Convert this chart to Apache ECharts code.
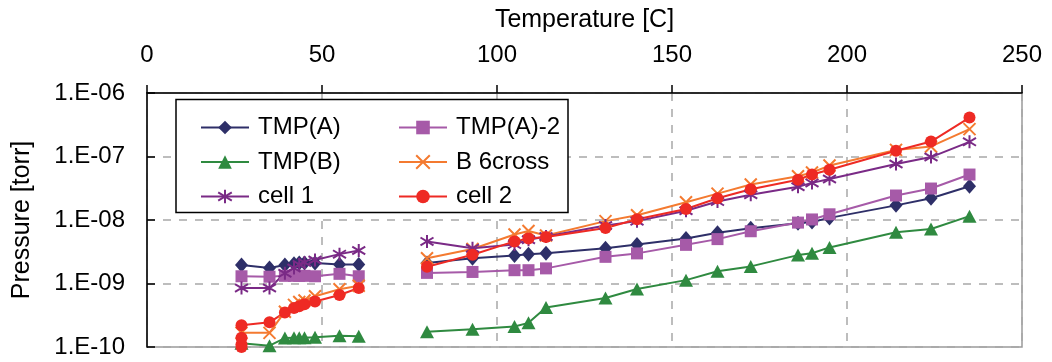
<!DOCTYPE html>
<html>
<head>
<meta charset="utf-8">
<script src="https://cdn.jsdelivr.net/npm/echarts@6/dist/echarts.min.js"></script>
<style>
html,body{margin:0;padding:0;background:#fff;}
#chart{width:1052px;height:362px;}
</style>
</head>
<body>
<div id="chart"></div>
<script>
// Temperatures [C]
const temps = [27, 35, 39.4, 42, 43.5, 45, 48, 55, 60.5,
  80, 93, 105, 109, 114,
  131, 140, 154, 163, 172.5, 186, 190, 195, 214, 224, 235];
const cell2Temps = [27, 27, 27, 27, 35, 39.4, 42, 43.5, 45, 48, 55, 60.5,
  80, 93, 105, 109, 114,
  131, 140, 154, 163, 172.5, 186, 190, 195, 214, 224, 235];

// Pressure [torr]
const tmpA = [1.95e-9, 1.75e-9, 1.95e-9, 2.05e-9, 2.1e-9, 2.1e-9, 2.1e-9, 2.0e-9, 2.0e-9,
  2.1e-9, 2.5e-9, 2.75e-9, 2.9e-9, 3.0e-9,
  3.6e-9, 4.1e-9, 5.1e-9, 6.3e-9, 7.4e-9, 8.9e-9, 9.3e-9, 1.08e-8, 1.7e-8, 2.2e-8, 3.4e-8];
const tmpA2 = [1.3e-9, 1.28e-9, 1.32e-9, 1.32e-9, 1.32e-9, 1.32e-9, 1.3e-9, 1.42e-9, 1.3e-9,
  1.47e-9, 1.52e-9, 1.62e-9, 1.62e-9, 1.73e-9,
  2.63e-9, 2.98e-9, 4.06e-9, 5.0e-9, 6.65e-9, 9.1e-9, 1.02e-8, 1.23e-8, 2.43e-8, 3.13e-8, 5.2e-8];
const tmpB = [1.15e-10, 1.05e-10, 1.38e-10, 1.4e-10, 1.4e-10, 1.4e-10, 1.42e-10, 1.5e-10, 1.48e-10,
  1.74e-10, 1.9e-10, 2.1e-10, 2.4e-10, 4.2e-10,
  5.9e-10, 8.2e-10, 1.13e-9, 1.56e-9, 1.86e-9, 2.8e-9, 3.0e-9, 3.7e-9, 6.4e-9, 7.2e-9, 1.15e-8];
const b6cross = [1.67e-10, 1.67e-10, 3.6e-10, 4.6e-10, 5.1e-10, 5.4e-10, 6.3e-10, 8.1e-10, 9.2e-10,
  2.5e-9, 3.5e-9, 5.9e-9, 6.7e-9, 5.7e-9,
  9.6e-9, 1.19e-8, 1.9e-8, 2.6e-8, 3.63e-8, 4.9e-8, 5.6e-8, 7.2e-8, 1.27e-7, 1.44e-7, 2.7e-7];
const cell1 = [8.5e-10, 8.5e-10, 1.45e-9, 1.75e-9, 2.0e-9, 2.15e-9, 2.35e-9, 2.9e-9, 3.3e-9,
  4.6e-9, 3.6e-9, 4.1e-9, 4.9e-9, 5.5e-9,
  8.2e-9, 9.6e-9, 1.4e-8, 1.95e-8, 2.5e-8, 3.33e-8, 3.84e-8, 4.43e-8, 7.6e-8, 9.8e-8, 1.7e-7];
const cell2 = [1.0e-10, 1.1e-10, 1.4e-10, 2.2e-10, 2.45e-10, 3.5e-10, 4.1e-10, 4.4e-10, 4.7e-10, 5.2e-10, 6.6e-10, 8.5e-10,
  1.83e-9, 2.83e-9, 4.6e-9, 5.1e-9, 5.4e-9,
  7.5e-9, 1.03e-8, 1.49e-8, 2.2e-8, 3.05e-8, 4.3e-8, 5.2e-8, 6.2e-8, 1.23e-7, 1.72e-7, 4.1e-7];

const xTicks = [0, 50, 100, 150, 200, 250];
const yExponents = [-10, -9, -8, -7, -6];

// measurement runs are separated by a gap (no line joining them)
function pairs(ts, vs) {
  const out = [];
  for (let i = 0; i < ts.length; i++) {
    if (i > 0 && ts[i - 1] < 70 && ts[i] > 70) out.push([70, '-']);
    out.push([ts[i], vs[i]]);
  }
  return out;
}

const FONT = '"Liberation Sans", Arial, sans-serif';
const X_PATH = 'path://M0,0L10,10M10,0L0,10';
const STAR_PATH = 'path://M5,0L5,10M0,2L10,8M10,2L0,8';

function mk(name, ts, vs, color, symbol, size, stroke) {
  return {
    name: name, type: 'line', data: pairs(ts, vs),
    symbol: symbol, symbolSize: size, showSymbol: true,
    lineStyle: {color: color, width: 2},
    itemStyle: stroke ? {color: 'rgba(0,0,0,0)', borderColor: color, borderWidth: 2}
                      : {color: color, borderWidth: 0},
    emphasis: {disabled: true},
    connectNulls: false
  };
}

const chart = echarts.init(document.getElementById('chart'), null, {renderer: 'canvas'});
const legendText = {fontSize: 24, fontFamily: FONT, color: '#000', lineHeight: 24, padding: [0, 0, 0, 4]};
chart.setOption({
  animation: false,
  backgroundColor: '#fff',
  grid: {left: 147, right: 30, top: 93, bottom: 15, show: true, borderColor: '#9a9a9a', borderWidth: 1.5, backgroundColor: 'transparent'},
  graphic: [{
    type: 'rect', z: 3,
    shape: {x: 176, y: 99.5, width: 392, height: 113},
    style: {fill: '#fff', stroke: '#000', lineWidth: 1.5}
  }],
  legend: [{
    orient: 'vertical', left: 195, top: 110.5, itemWidth: 48, itemHeight: 17, itemGap: 10.5,
    selectedMode: false, textStyle: legendText, z: 5,
    data: ['TMP(A)', 'TMP(B)', 'cell 1']
  }, {
    orient: 'vertical', left: 393, top: 110.5, itemWidth: 48, itemHeight: 17, itemGap: 10.5,
    selectedMode: false, textStyle: legendText, z: 5,
    data: ['TMP(A)-2', 'B 6cross', 'cell 2']
  }],
  xAxis: {
    type: 'value', position: 'top', min: xTicks[0], max: xTicks[xTicks.length - 1], interval: 50,
    name: 'Temperature [C]', nameLocation: 'middle', nameGap: 60,
    nameTextStyle: {fontSize: 25, fontFamily: FONT, color: '#000'},
    axisLine: {show: true, lineStyle: {color: '#000', width: 1.5}},
    axisTick: {show: true, inside: false, length: 8, lineStyle: {color: '#000', width: 1.5}},
    axisLabel: {fontSize: 24, fontFamily: FONT, color: '#000', margin: 26},
    splitLine: {show: true, lineStyle: {color: '#a8a8a8', width: 1.5, type: [8, 8]}}
  },
  yAxis: {
    type: 'log', logBase: 10, min: Math.pow(10, yExponents[0]), max: Math.pow(10, yExponents[yExponents.length - 1]),
    name: 'Pressure [torr]', nameLocation: 'middle', nameGap: 112, nameRotate: 90,
    nameTextStyle: {fontSize: 25, fontFamily: FONT, color: '#000'},
    axisLine: {show: true, lineStyle: {color: '#000', width: 1.5}},
    axisTick: {show: true, inside: true, length: 8, lineStyle: {color: '#000', width: 1.5}},
    axisLabel: {
      fontSize: 24, fontFamily: FONT, color: '#000', margin: 22,
      formatter: function (v) {
        const e = Math.round(Math.log10(v));
        const a = Math.abs(e);
        return '1.E' + (e < 0 ? '-' : '+') + (a < 10 ? '0' + a : '' + a);
      }
    },
    splitLine: {show: true, lineStyle: {color: '#a8a8a8', width: 1.5, type: [8, 8]}}
  },
  series: [
    mk('TMP(A)', temps, tmpA, '#2e2f68', 'diamond', [13, 15], false),
    mk('TMP(A)-2', temps, tmpA2, '#a65aa8', 'rect', 12, false),
    mk('TMP(B)', temps, tmpB, '#2f8a40', 'triangle', [14, 13], false),
    mk('B 6cross', temps, b6cross, '#f47a30', X_PATH, 12, true),
    mk('cell 1', temps, cell1, '#7a2a86', STAR_PATH, 13, true),
    mk('cell 2', cell2Temps, cell2, '#ee2a24', 'circle', 12, false)
  ]
});
</script>
</body>
</html>
